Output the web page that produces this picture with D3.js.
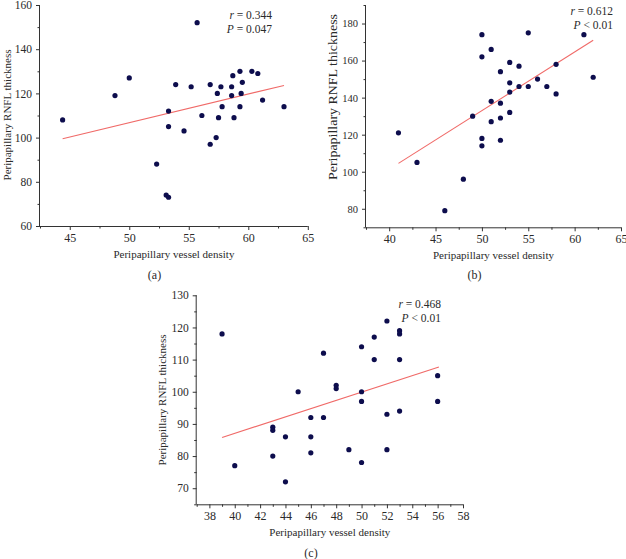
<!DOCTYPE html>
<html>
<head>
<meta charset="utf-8">
<script src="https://cdn.jsdelivr.net/npm/d3@7"></script>
<style>
  html, body { margin: 0; padding: 0; background: #fff; }
  svg { display: block; }
  text { font-family: "Liberation Serif", "Times New Roman", serif; fill: #2a2a2a; }
</style>
</head>
<body>
<svg id="chart" width="626" height="559"></svg>
<script>
// ---------- Panel (a) data ----------
const aX = [44.4,48.8,50.0,55.7,53.3,53.3,53.9,54.6,55.2,56.1,56.8,56.8,57.3,57.4,57.5,57.7,57.8,58.6,58.6,58.7,58.8,59.3,59.3,59.4,59.5,60.3,60.8,61.2,63.0,52.3,53.1,53.3];
const aY = [108,119,127,152,112,105,124,103,123,110,124,97,100,120,109,123,114,123,119,128,109,130,114,120,125,130,129,117,114,88,74,73];
const aFitX = [44.4, 63.0];
const aFitY = [99.5, 123.6];
const aXTicks = [45, 50, 55, 60, 65];
const aXMinor = [42.5, 47.5, 52.5, 57.5, 62.5];
const aYTicks = [60, 80, 100, 120, 140, 160];
const aYMinor = [70, 90, 110, 130, 150];
const aStats = ["r = 0.344", "P = 0.047"];

// ---------- Panel (b) data ----------
const bX = [41,50,50,51,52,53,54,55,61,58,62,53,54,55,56,57,58,53,51,52,53,49,51,52,50,50,52,43,48,46];
const bY = [121,174,162,166,154,159,157,175,174,158,151,148,146,146,150,146,142,143,138,137,132,130,127,129,118,114,117,105,96,79];
const bFitX = [41, 62];
const bFitY = [104.5, 171];
const bXTicks = [40, 45, 50, 55, 60, 65];
const bXMinor = [37.5, 42.5, 47.5, 52.5, 57.5, 62.5];
const bYTicks = [80, 100, 120, 140, 160, 180];
const bYMinor = [70, 90, 110, 130, 150, 170, 190];
const bStats = ["r = 0.612", "P < 0.01"];

// ---------- Panel (c) data ----------
const cX = [39,45,47,48,48,50,50,50,51,51,52,52,53,53,53,53,56,56,46,47,43,43,44,46,46,43,40,44,49,50,52];
const cY = [118,100,112,102,101,114,100,97,117,110,122,93,119,118,110,94,105,97,92,92,89,88,86,86,81,80,77,72,82,78,82];
const cFitX = [39, 56.1];
const cFitY = [85.8, 107.7];
const cXTicks = [38, 40, 42, 44, 46, 48, 50, 52, 54, 56, 58];
const cXMinor = [37, 39, 41, 43, 45, 47, 49, 51, 53, 55, 57];
const cYTicks = [70, 80, 90, 100, 110, 120, 130];
const cYMinor = [65, 75, 85, 95, 105, 115, 125];
const cStats = ["r = 0.468", "P < 0.01"];

const xTitle = "Peripapillary vessel density";
const yTitle = "Peripapillary RNFL thickness";
const panelLabels = ["(a)", "(b)", "(c)"];

const svg = d3.select("#chart");
const DOT = "#0d0d4d";
const FIT = "#f06a68";
const AXIS = "#333";

function drawPanel(p) {
  const x = d3.scaleLinear().domain(p.xDomain).range([p.left, p.right]);
  const y = d3.scaleLinear().domain(p.yDomain).range([p.bottom, p.top]);
  const g = svg.append("g");

  // x axis major
  const gx = g.append("g").attr("transform", `translate(0,${p.bottom})`)
    .call(d3.axisBottom(x).tickValues(p.xTicks).tickSize(4).tickPadding(3).tickFormat(d3.format("d")));
  gx.selectAll("text").style("font-size", "12px").attr("fill", "#2a2a2a");
  const gxm = g.append("g").attr("transform", `translate(0,${p.bottom})`)
    .call(d3.axisBottom(x).tickValues(p.xMinor).tickSize(2.5).tickFormat(""));
  gxm.select(".domain").remove();

  // y axis
  const gy = g.append("g").attr("transform", `translate(${p.left},0)`)
    .call(d3.axisLeft(y).tickValues(p.yTicks).tickSize(4).tickPadding(4).tickFormat(d3.format("d")));
  gy.selectAll("text").style("font-size", p.yTickFont + "px").attr("fill", "#2a2a2a");
  const gym = g.append("g").attr("transform", `translate(${p.left},0)`)
    .call(d3.axisLeft(y).tickValues(p.yMinor).tickSize(2.5).tickFormat(""));
  gym.select(".domain").remove();

  g.selectAll(".domain, .tick line").attr("stroke", AXIS).attr("stroke-width", 1);
  gx.select(".domain").attr("d", `M${p.left},0.5H${p.right}`);
  gy.select(".domain").attr("d", `M-0.5,${p.top}V${p.bottom}`);

  // fit line
  const fit = p.fitX.map((v, i) => [v, p.fitY[i]]);
  g.append("path")
    .attr("d", d3.line().x(d => x(d[0])).y(d => y(d[1]))(fit))
    .attr("stroke", FIT).attr("stroke-width", 1.1).attr("fill", "none");

  // points
  const pts = p.xs.map((v, i) => [v, p.ys[i]]);
  g.selectAll("circle.pt").data(pts).enter().append("circle")
    .attr("class", "pt")
    .attr("cx", d => x(d[0])).attr("cy", d => y(d[1]))
    .attr("r", 2.6).attr("fill", DOT);

  // stats
  const st = g.append("text").attr("text-anchor", "end").style("font-size", "11.5px");
  p.stats.forEach((s, i) => {
    const parts = s.split(" ");
    const t = g.append("text").attr("text-anchor", "end")
      .attr("x", p.statX).attr("y", p.statY + i * 13.5)
      .style("font-size", "11.5px");
    t.append("tspan").style("font-style", "italic").text(parts[0]);
    t.append("tspan").text(" " + parts.slice(1).join(" "));
  });

  // titles
  g.append("text").attr("text-anchor", "middle")
    .attr("x", (p.left + p.right) / 2 + p.xTitleDx).attr("y", p.bottom + 32)
    .style("font-size", "11px").text(xTitle);
  const yt = g.append("text").attr("text-anchor", "middle")
    .attr("transform", `translate(${p.yTitleX},${p.yTitleCy}) rotate(-90)`)
    .attr("dy", "0.35em")
    .style("font-size", p.yTitleFont + "px").text(yTitle);
  if (p.yTitleLen) yt.attr("textLength", p.yTitleLen).attr("lengthAdjust", "spacingAndGlyphs");

  g.append("text").attr("text-anchor", "middle")
    .attr("x", p.subX).attr("y", p.subY)
    .style("font-size", "12px").text(p.sub);
}

drawPanel({
  xs: aX, ys: aY, fitX: aFitX, fitY: aFitY,
  xDomain: [42.5, 65], yDomain: [60, 160],
  left: 40, right: 307.8, top: 5, bottom: 226,
  xTicks: aXTicks, xMinor: aXMinor, yTicks: aYTicks, yMinor: aYMinor,
  yTickFont: 11.5, stats: aStats, statX: 272, statY: 19,
  xTitleDx: 0, yTitleX: 7, yTitleCy: 115, yTitleFont: 11,
  sub: panelLabels[0], subX: 154.5, subY: 279
});

drawPanel({
  xs: bX, ys: bY, fitX: bFitX, fitY: bFitY,
  xDomain: [37.5, 65], yDomain: [70, 190],
  left: 366, right: 621, top: 5, bottom: 227.3,
  xTicks: bXTicks, xMinor: bXMinor, yTicks: bYTicks, yMinor: bYMinor,
  yTickFont: 10.5, stats: bStats, statX: 613, statY: 15,
  xTitleDx: 0, yTitleX: 333, yTitleCy: 97, yTitleFont: 12, yTitleLen: 166,
  sub: panelLabels[1], subX: 474.5, subY: 279
});

drawPanel({
  xs: cX, ys: cY, fitX: cFitX, fitY: cFitY,
  xDomain: [37, 58], yDomain: [65, 130],
  left: 196.7, right: 463, top: 295.3, bottom: 504.3,
  xTicks: cXTicks, xMinor: cXMinor, yTicks: cYTicks, yMinor: cYMinor,
  yTickFont: 11.5, stats: cStats, statX: 441, statY: 308,
  xTitleDx: 0, yTitleX: 162, yTitleCy: 400, yTitleFont: 11,
  sub: panelLabels[2], subX: 311, subY: 557
});
</script>
</body>
</html>
